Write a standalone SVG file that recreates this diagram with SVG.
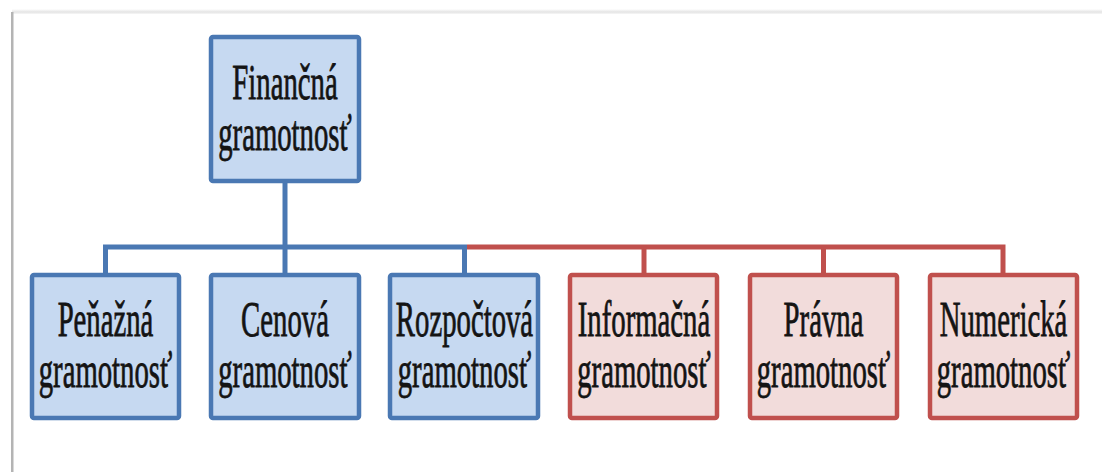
<svg xmlns="http://www.w3.org/2000/svg" width="1102" height="472" viewBox="0 0 1102 472">
  <style>
    .lbl { font-family: "Liberation Serif", "Times New Roman", serif; font-size: 50px; fill: #141414; stroke: #141414; stroke-width: 0.8; text-anchor: middle; }
    .blue rect { fill: #c6d9f1; stroke: #4a78b3; stroke-width: 4.5; }
    .red rect { fill: #f2dcdb; stroke: #c0504d; stroke-width: 4.5; }
    .lnb { fill: none; stroke: #4a78b3; stroke-width: 5; stroke-linejoin: miter; }
    .lnr { fill: none; stroke: #c0504d; stroke-width: 5; stroke-linejoin: miter; }
  </style>
  <defs>
    <linearGradient id="topShade" x1="0" y1="0" x2="0" y2="1">
      <stop offset="0" stop-color="#ffffff"/>
      <stop offset="0.6" stop-color="#e4e4e4"/>
      <stop offset="1" stop-color="#f7f7f7"/>
    </linearGradient>
  </defs>

  <rect width="1102" height="472" fill="#ffffff"/>

  <!-- page frame -->
  <g id="frame">
    <rect x="12" y="9" width="1090" height="5" fill="url(#topShade)"/>
    <rect x="11" y="12" width="2.5" height="460" fill="#b4b4b4"/>
  </g>

  <!-- connectors -->
  <g id="connectors">
    <path class="lnb" d="M285,183 V247"/>
    <path class="lnb" d="M105.5,273 V247 H464.5 V273"/>
    <path class="lnb" d="M285,247 V273"/>
    <path class="lnr" d="M467,247 H1003 V273"/>
    <path class="lnr" d="M644,247 V273"/>
    <path class="lnr" d="M823.5,247 V273"/>
  </g>

  <!-- labels are set in a narrow serif: each is squeezed horizontally about its centre -->
  <g id="financna" class="blue">
    <rect x="211" y="37" width="148" height="144" rx="2"/>
    <g transform="translate(285,0) scale(0.575,1)">
      <text class="lbl" x="0" y="99">Finančná</text>
      <text class="lbl" x="0" y="150">gramotnosť</text>
    </g>
  </g>

  <g id="penazna" class="blue">
    <rect x="32" y="275" width="147" height="143" rx="2"/>
    <g transform="translate(105.5,0) scale(0.575,1)">
      <text class="lbl" x="0" y="336">Peňažná</text>
      <text class="lbl" x="0" y="387">gramotnosť</text>
    </g>
  </g>

  <g id="cenova" class="blue">
    <rect x="211" y="275" width="148" height="143" rx="2"/>
    <g transform="translate(285,0) scale(0.575,1)">
      <text class="lbl" x="0" y="336">Cenová</text>
      <text class="lbl" x="0" y="387">gramotnosť</text>
    </g>
  </g>

  <g id="rozpoctova" class="blue">
    <rect x="390" y="275" width="148" height="143" rx="2"/>
    <g transform="translate(464.5,0) scale(0.575,1)">
      <text class="lbl" x="0" y="336">Rozpočtová</text>
      <text class="lbl" x="0" y="387">gramotnosť</text>
    </g>
  </g>

  <g id="informacna" class="red">
    <rect x="570" y="275" width="147" height="143" rx="2"/>
    <g transform="translate(644,0) scale(0.575,1)">
      <text class="lbl" x="0" y="336">Informačná</text>
      <text class="lbl" x="0" y="387">gramotnosť</text>
    </g>
  </g>

  <g id="pravna" class="red">
    <rect x="750" y="275" width="147" height="143" rx="2"/>
    <g transform="translate(823.5,0) scale(0.575,1)">
      <text class="lbl" x="0" y="336">Právna</text>
      <text class="lbl" x="0" y="387">gramotnosť</text>
    </g>
  </g>

  <g id="numericka" class="red">
    <rect x="930" y="275" width="147" height="143" rx="2"/>
    <g transform="translate(1003.5,0) scale(0.575,1)">
      <text class="lbl" x="0" y="336">Numerická</text>
      <text class="lbl" x="0" y="387">gramotnosť</text>
    </g>
  </g>
</svg>
